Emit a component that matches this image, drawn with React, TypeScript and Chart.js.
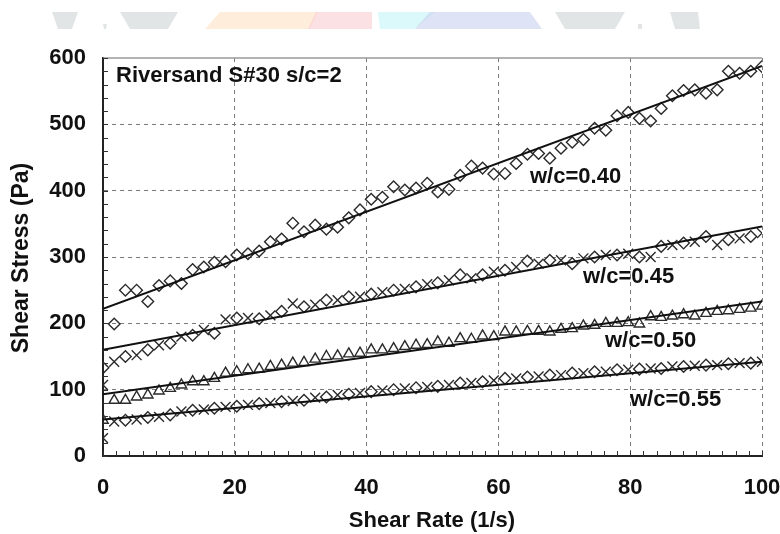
import React, { useEffect, useRef } from 'react';
import { Chart, registerables } from 'chart.js';
Chart.register(...registerables);

// Shear rate (1/s) sample positions
const shearRate = [0,1.7,3.4,5.1,6.8,8.5,10.2,11.9,13.6,15.3,16.9,18.6,20.3,22.0,23.7,25.4,27.1,28.8,30.5,32.2,33.9,35.6,37.3,39.0,40.7,42.4,44.1,45.8,47.5,49.2,50.8,52.5,54.2,55.9,57.6,59.3,61.0,62.7,64.4,66.1,67.8,69.5,71.2,72.9,74.6,76.3,78.0,79.7,81.4,83.1,84.7,86.4,88.1,89.8,91.5,93.2,94.9,96.6,98.3,100];

// Shear stress (Pa) per w/c ratio
const stress040 = [133,199,250,250,233,257,264,260,281,285,292,293,303,305,309,323,327,351,338,348,342,345,359,371,387,390,406,401,404,411,398,402,423,437,434,425,426,441,455,456,449,464,473,477,494,491,513,518,509,505,524,543,551,552,547,552,580,577,580,587];
const stress045 = [107,142,150,152,160,167,170,180,182,190,185,206,208,208,207,212,218,230,225,228,235,235,240,240,244,247,250,252,255,259,261,265,273,268,273,278,280,285,294,290,295,295,290,298,300,303,303,305,300,300,316,318,321,323,331,318,326,328,331,336];
const stress050 = [54,84,84,89,92,98,102,107,112,112,117,125,127,130,131,135,137,140,141,146,150,151,154,155,160,160,162,165,167,168,172,170,177,176,181,180,187,187,188,188,187,191,192,196,197,200,200,201,199,210,209,211,213,211,215,218,219,221,223,226];
const stress055 = [27,52,54,55,58,59,62,67,69,70,72,74,75,77,79,80,82,83,84,88,89,92,93,95,97,99,100,102,103,104,105,107,110,110,112,114,117,117,119,120,122,122,125,125,127,127,130,130,131,132,132,135,135,136,137,137,139,140,140,142];

// Linear fits (endpoints at shear rate 0 and 100)
const fitX = [0, 100];
const fit040 = [222, 588];
const fit045 = [160, 346];
const fit050 = [93, 233];
const fit055 = [55, 142];

const seriesLabels = ['w/c=0.40', 'w/c=0.45', 'w/c=0.50', 'w/c=0.55'];
const chartTitle = 'Riversand S#30 s/c=2';
const xTitle = 'Shear Rate (1/s)';
const yTitle = 'Shear Stress (Pa)';

const FONT = '"Liberation Sans", Arial, sans-serif';
const INK = '#111';
const MARK = '#2a2a2a';

const toPts = (xs: number[], ys: number[]) => xs.map((x, i) => ({ x, y: ys[i] }));

const altStyle = (n: number) =>
  Array.from({ length: n }, (_, i) => (i === 0 ? 'crossRot' : i % 2 ? 'crossRot' : 'rectRot'));
const altRadius = (n: number) =>
  Array.from({ length: n }, (_, i) => (i === 0 ? 7 : i % 2 ? 7 : 5.8));

const decorPlugin = {
  id: 'decor',
  beforeDraw(chart: any) {
    const ctx = chart.ctx;
    ctx.save();
    const polys: [string, number[][]][] = [
      ['rgba(200,208,210,0.55)', [[52, 12], [78, 12], [72, 29], [58, 29]]],
      ['rgba(200,208,210,0.55)', [[103, 24], [107, 24], [106, 29], [104, 29]]],
      ['rgba(200,208,210,0.55)', [[120, 12], [178, 12], [168, 29], [130, 29]]],
      ['rgba(253,222,190,0.55)', [[220, 12], [318, 12], [310, 29], [205, 29]]],
      ['rgba(250,200,205,0.55)', [[316, 12], [372, 12], [372, 29], [308, 29]]],
      ['rgba(195,243,246,0.6)', [[378, 12], [435, 12], [415, 29], [380, 29]]],
      ['rgba(200,208,238,0.6)', [[430, 12], [530, 12], [542, 29], [415, 29]]],
      ['rgba(200,208,210,0.55)', [[555, 12], [625, 12], [615, 29], [565, 29]]],
      ['rgba(200,208,210,0.55)', [[638, 24], [642, 24], [642, 29], [638, 29]]],
      ['rgba(200,208,210,0.55)', [[670, 12], [698, 12], [700, 29], [675, 29]]],
    ];
    for (const [c, p] of polys) {
      ctx.fillStyle = c;
      ctx.beginPath();
      ctx.moveTo(p[0][0], p[0][1]);
      for (let i = 1; i < p.length; i++) ctx.lineTo(p[i][0], p[i][1]);
      ctx.closePath();
      ctx.fill();
    }
    ctx.restore();
  },
  afterDraw(chart: any) {
    const ctx = chart.ctx;
    const xs = chart.scales.x;
    const ys = chart.scales.y;
    const { left, right, top, bottom } = chart.chartArea;
    ctx.save();
    // top frame line
    ctx.strokeStyle = '#9a9a9a';
    ctx.lineWidth = 1.5;
    ctx.beginPath();
    ctx.moveTo(left, top);
    ctx.lineTo(right, top);
    ctx.stroke();
    // minor ticks
    ctx.strokeStyle = '#333';
    ctx.lineWidth = 1;
    ctx.beginPath();
    for (let v = 0; v <= 600; v += 20) {
      const y = Math.round(ys.getPixelForValue(v)) + 0.5;
      ctx.moveTo(left, y);
      ctx.lineTo(left + 5, y);
    }
    for (let v = 0; v <= 100; v += 2) {
      const x = Math.round(xs.getPixelForValue(v)) + 0.5;
      ctx.moveTo(x, bottom);
      ctx.lineTo(x, bottom - 5);
    }
    ctx.stroke();
    // texts
    ctx.fillStyle = INK;
    ctx.textBaseline = 'alphabetic';
    ctx.textAlign = 'left';
    ctx.font = `bold 22px ${FONT}`;
    ctx.fillText(chartTitle, 116, 82);
    const lab: [number, number][] = [[530, 183], [583, 283], [605, 347], [630, 406]];
    seriesLabels.forEach((s, i) => ctx.fillText(s, lab[i][0], lab[i][1]));
    // axis titles
    ctx.textAlign = 'center';
    ctx.textBaseline = 'middle';
    ctx.font = `bold 22px ${FONT}`;
    ctx.fillText(xTitle, 432, 521);
    ctx.translate(22, 258);
    ctx.rotate(-Math.PI / 2);
    ctx.font = `bold 23px ${FONT}`;
    ctx.fillText(yTitle, 0, 0);
    ctx.restore();
  },
};

export default function App() {
  const ref = useRef<HTMLCanvasElement | null>(null);
  useEffect(() => {
    if (!ref.current) return;
    const n = shearRate.length;
    const scatterBase = {
      type: 'scatter' as const,
      showLine: false,
      borderColor: MARK,
      backgroundColor: 'rgba(0,0,0,0)',
      pointBorderWidth: 1.4,
    };
    const lineBase = {
      type: 'scatter' as const,
      showLine: true,
      borderColor: INK,
      borderWidth: 2,
      pointRadius: 0,
      fill: false,
    };
    const chart = new Chart(ref.current, {
      type: 'scatter',
      data: {
        datasets: [
          { ...lineBase, label: 'fit 0.40', data: toPts(fitX, fit040) },
          { ...lineBase, label: 'fit 0.45', data: toPts(fitX, fit045) },
          { ...lineBase, label: 'fit 0.50', data: toPts(fitX, fit050) },
          { ...lineBase, label: 'fit 0.55', data: toPts(fitX, fit055) },
          { ...scatterBase, label: seriesLabels[0], data: toPts(shearRate, stress040), pointStyle: 'rectRot', pointRadius: 5.8 },
          { ...scatterBase, label: seriesLabels[1], data: toPts(shearRate, stress045), pointStyle: altStyle(n) as any, pointRadius: altRadius(n) },
          { ...scatterBase, label: seriesLabels[2], data: toPts(shearRate, stress050), pointStyle: 'triangle', pointRadius: 6 },
          { ...scatterBase, label: seriesLabels[3], data: toPts(shearRate, stress055), pointStyle: altStyle(n) as any, pointRadius: altRadius(n) },
        ] as any,
      },
      options: {
        animation: false,
        responsive: false,
        maintainAspectRatio: false,
        layout: { padding: { left: 0, right: 18, top: 58, bottom: 0 } },
        plugins: { legend: { display: false }, tooltip: { enabled: false } },
        scales: {
          x: {
            type: 'linear',
            min: 0,
            max: 100,
            ticks: {
              stepSize: 20,
              autoSkip: false,
              maxRotation: 0,
              padding: 19,
              color: INK,
              font: { family: FONT, size: 22, weight: 'bold' },
            },
            grid: {
              drawTicks: false,
              lineWidth: 1,
              color: (c: any) => (c.tick && c.tick.value === 0 ? 'rgba(0,0,0,0)' : '#7a7a7a'),
            },
            border: { display: true, color: '#222', width: 2, dash: [4, 4] },
            afterFit: (s: any) => { s.height = 78; s.paddingLeft = 0; s.paddingRight = 0; },
          },
          y: {
            type: 'linear',
            min: 0,
            max: 600,
            ticks: {
              stepSize: 100,
              padding: 17,
              color: INK,
              font: { family: FONT, size: 22, weight: 'bold' },
            },
            grid: {
              drawTicks: false,
              lineWidth: 1,
              color: (c: any) =>
                c.tick && (c.tick.value === 0 || c.tick.value === 600) ? 'rgba(0,0,0,0)' : '#7a7a7a',
            },
            border: { display: true, color: '#222', width: 2, dash: [4, 4] },
            afterFit: (s: any) => { s.width = 103; s.paddingTop = 0; s.paddingBottom = 0; },
          },
        },
      } as any,
      plugins: [decorPlugin],
    });
    return () => chart.destroy();
  }, []);
  return (
    <div style={{ position: 'absolute', left: 0, top: 0, width: 780, height: 534, background: '#fff' }}>
      <canvas ref={ref} width={780} height={534} style={{ width: 780, height: 534, display: 'block' }} />
    </div>
  );
}
